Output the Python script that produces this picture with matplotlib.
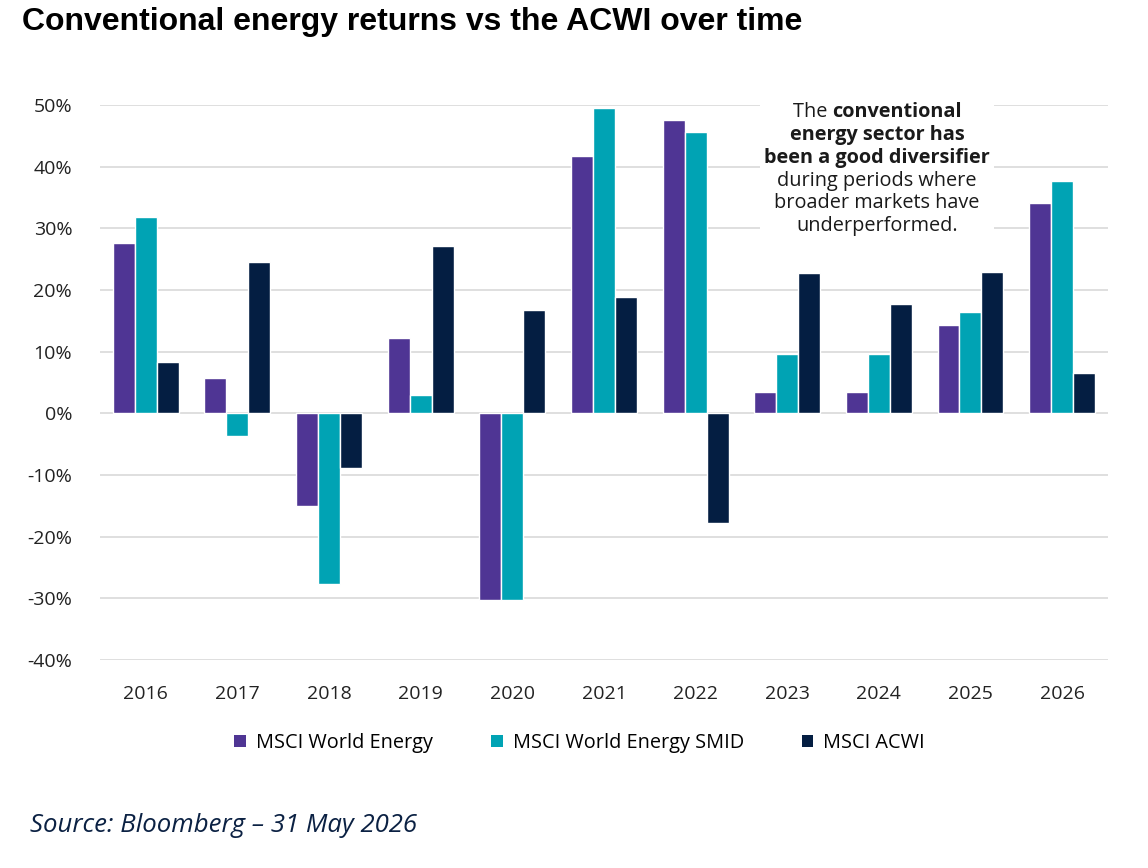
import matplotlib
matplotlib.use("Agg")
import numpy as np
import matplotlib.pyplot as plt
from matplotlib.offsetbox import TextArea, HPacker, VPacker, AnnotationBbox
from matplotlib.patches import Patch

plt.rcParams['font.family'] = ['Open Sans', 'DejaVu Sans']

years = ['2016', '2017', '2018', '2019', '2020', '2021', '2022', '2023', '2024', '2025', '2026']
world_energy = [27.6, 5.8, -15.1, 12.3, -30.3, 41.7, 47.5, 3.4, 3.4, 14.3, 34.1]
world_energy_smid = [31.9, -3.6, -27.7, 2.9, -30.2, 49.5, 45.6, 9.7, 9.7, 16.5, 37.6]
acwi = [8.4, 24.5, -8.8, 27.2, 16.7, 18.8, -17.8, 22.7, 17.8, 22.9, 6.6]

series_names = ['MSCI World Energy', 'MSCI World Energy SMID', 'MSCI ACWI']
colors = ['#4F3594', '#00A3B4', '#041E42']

fig = plt.figure(figsize=(11.48, 8.68), dpi=100)
ax = fig.add_axes([0.0871, 0.2396, 0.878, 0.6394])

x = np.arange(len(years))
w = 0.24
for i, (vals, c) in enumerate(zip([world_energy, world_energy_smid, acwi], colors)):
    ax.bar(x + (i - 1) * w, vals, width=w, color=c, edgecolor='white', linewidth=1, zorder=3)

ax.set_xlim(-0.5, len(years) - 0.5)
ax.set_ylim(-40, 50)
ax.set_yticks(np.arange(-40, 51, 10))
ax.set_yticklabels([f'{v}%' for v in range(-40, 51, 10)], fontsize=14, color='#222222')
ax.set_xticks(x)
ax.set_xticklabels(years, fontsize=14, color='#222222')
ax.tick_params(length=0, axis='y', pad=20)
ax.tick_params(length=0, axis='x', pad=18)
ax.grid(axis='y', color='#D9D9D9', linewidth=1.2, zorder=0)
for s in ax.spines.values():
    s.set_visible(False)

# annotation with mixed bold text
fs = 14.3
norm = dict(fontsize=fs, color='#1a1a1a')
bold = dict(fontsize=fs, color='#1a1a1a', fontweight='bold')
lines = [
    [("The ", norm), ("conventional", bold)],
    [("energy sector has", bold)],
    [("been a good diversifier", bold)],
    [("during periods where", norm)],
    [("broader markets have", norm)],
    [("underperformed.", norm)],
]
rows = []
for ln in lines:
    parts = [TextArea(t, textprops=p) for t, p in ln]
    rows.append(HPacker(children=parts, align='baseline', pad=0, sep=0))
box = VPacker(children=rows, align='center', pad=0, sep=2)
ab = AnnotationBbox(box, (0.764, 0.805), xycoords='figure fraction', frameon=True,
                    bboxprops=dict(facecolor='white', edgecolor='none'), pad=0.3, zorder=5)
fig.add_artist(ab)

handles = [Patch(facecolor=c, edgecolor='none') for c in colors]
fig.legend(handles, series_names, loc='center', bbox_to_anchor=(0.505, 0.144), ncol=3,
           frameon=False, fontsize=14.3, handlelength=0.6, handleheight=0.6,
           handletextpad=0.5, columnspacing=2.9)

fig.text(0.019, 0.975, 'Conventional energy returns vs the ACWI over time',
         fontsize=23, fontweight='bold', family=['Liberation Sans', 'DejaVu Sans'],
         ha='left', va='center', color='black')
fig.text(0.026, 0.049, 'Source: Bloomberg \u2013 31 May 2026', fontsize=18.5,
         style='italic', color='#0B2143', ha='left', va='center')

fig.savefig('out.png', dpi=100)
